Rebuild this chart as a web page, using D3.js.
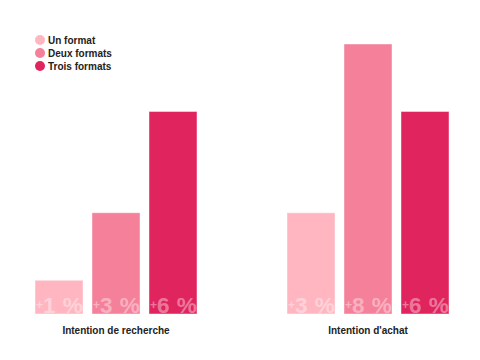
<!DOCTYPE html>
<html><head><meta charset="utf-8">
<script src="https://cdn.jsdelivr.net/npm/d3@7"></script>
<style>body{margin:0;background:#fff}svg{font-family:"Liberation Sans",Arial,sans-serif}</style>
</head><body>
<svg id="c" width="480" height="360"></svg>
<script>
const categories = ["Intention de recherche", "Intention d'achat"];
const seriesNames = ["Un format", "Deux formats", "Trois formats"];
const seriesColors = ["#FFB6C1", "#F4809A", "#E0245E"];
const unFormat = [1, 3];
const deuxFormats = [3, 8];
const troisFormats = [6, 6];
const seriesValues = [unFormat, deuxFormats, troisFormats];

const svg = d3.select("#c");
const x0 = d3.scaleBand().domain(categories).range([35, 449]).paddingInner(90/252).paddingOuter(0);
const x1 = d3.scaleBand().domain(seriesNames).range([0, x0.bandwidth()]).paddingInner(9/57).paddingOuter(0);
const y = d3.scaleLinear().domain([0, 8]).range([314, 44]);

const data = [];
categories.forEach((c, ci) => seriesNames.forEach((s, si) => data.push({c, s, si, v: seriesValues[si][ci]})));

const g = svg.append("g");
g.selectAll("rect.bar").data(data).join("rect").attr("class","bar")
  .attr("x", d => x0(d.c) + x1(d.s))
  .attr("y", d => y(d.v))
  .attr("width", x1.bandwidth())
  .attr("height", d => y(0) - y(d.v))
  .attr("fill", d => seriesColors[d.si])
  .attr("stroke", "rgba(255,255,255,0.45)")
  .attr("stroke-width", 1);

const t = g.selectAll("text.val").data(data).join("text").attr("class","val")
  .attr("x", d => x0(d.c) + x1(d.s) + 1)
  .attr("y", y(0) - 1)
  .attr("fill", "rgba(255,255,255,0.4)")
  .attr("font-weight", "bold")
  .attr("font-size", 22.5);
t.append("tspan").attr("font-size", 12).attr("dy", -4).text("+");
t.append("tspan").attr("dy", 4).attr("letter-spacing", 0.5).text(d => d.v + " %");

// category axis labels
svg.append("g").selectAll("text").data(categories).join("text")
  .attr("x", d => x0(d) + x0.bandwidth()/2)
  .attr("y", 334)
  .attr("text-anchor", "middle")
  .attr("font-size", 10).attr("font-weight", "bold").attr("fill", "#222")
  .text(d => d);

// legend
const lg = svg.append("g").selectAll("g").data(seriesNames).join("g")
  .attr("transform", (d, i) => `translate(40,${40 + i*13})`);
lg.append("circle").attr("r", 5).attr("fill", (d, i) => seriesColors[i]);
lg.append("text").attr("x", 8).attr("y", 3.5).attr("font-size", 10).attr("font-weight", "bold").attr("fill", "#222").text(d => d);
</script>
</body></html>
